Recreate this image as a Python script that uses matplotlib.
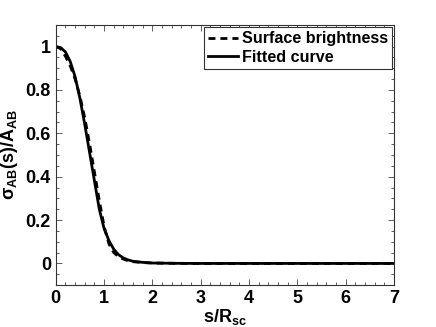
import matplotlib
matplotlib.use("Agg")
import matplotlib.pyplot as plt
from matplotlib.ticker import MultipleLocator, FormatStrFormatter

plt.rcParams['font.family'] = ['Liberation Sans', 'DejaVu Sans']
plt.rcParams['font.weight'] = 'bold'
plt.rcParams['mathtext.fontset'] = 'custom'
plt.rcParams['mathtext.rm'] = 'Liberation Sans:bold'
plt.rcParams['mathtext.it'] = 'Liberation Sans:bold'
plt.rcParams['mathtext.bf'] = 'Liberation Sans:bold'

# surface brightness (dashed)
s_sb = [0, 0.1, 0.2, 0.3, 0.4, 0.5, 0.6, 0.7, 0.8, 0.9, 1.0, 1.1, 1.2, 1.3,
        1.4, 1.5, 1.6, 1.8, 2.0, 2.5, 3.0, 7.0]
sb = [1.0, 0.99, 0.955, 0.91, 0.85, 0.77, 0.67, 0.55, 0.42, 0.29, 0.17, 0.09,
      0.05, 0.03, 0.02, 0.012, 0.008, 0.004, 0.002, 0.0005, 0.0, 0.0]

# fitted curve (solid)
s_fit = [0, 0.1, 0.2, 0.3, 0.4, 0.5, 0.6, 0.7, 0.8, 0.9, 1.0, 1.1, 1.2, 1.3,
         1.4, 1.5, 1.6, 1.8, 2.0, 2.5, 3.0, 7.0]
fit = [1.0, 0.995, 0.975, 0.93, 0.86, 0.76, 0.64, 0.51, 0.38, 0.25, 0.16, 0.105,
       0.065, 0.04, 0.025, 0.016, 0.01, 0.005, 0.002, 0.0005, 0.0, 0.0]

fig = plt.figure(figsize=(4.36, 3.27), dpi=100)
ax = fig.add_axes([0.128, 0.128, 0.776, 0.796])

ax.plot(s_sb, sb, 'k--', lw=2.0, dashes=(2.5, 1.8), label='Surface brightness')
ax.plot(s_fit, fit, 'k-', lw=2.0, label='Fitted curve')

ax.set_xlim(0, 7)
ax.set_ylim(-0.1, 1.1)
ax.xaxis.set_major_locator(MultipleLocator(1))
ax.xaxis.set_minor_locator(MultipleLocator(0.2))
ax.yaxis.set_major_locator(MultipleLocator(0.2))
ax.yaxis.set_minor_locator(MultipleLocator(0.05))
ax.yaxis.set_major_formatter(FormatStrFormatter('%g'))
ax.tick_params(which='both', direction='in', top=True, right=True,
               labelsize=13, width=0.6, color='#444444')
ax.tick_params(which='major', length=4)
ax.tick_params(which='minor', length=2)
for sp in ax.spines.values():
    sp.set_linewidth(0.8)
    sp.set_color('#333333')

ax.set_xlabel(r'$\mathrm{s/R_{sc}}$', fontsize=13, labelpad=0)
ax.set_ylabel(r'$\sigma_{AB}\mathrm{(s)/A_{AB}}$', fontsize=13, labelpad=4)

leg = ax.legend(loc='upper right', fontsize=11.6, handlelength=1.9,
                handletextpad=0.2, borderpad=0.25, labelspacing=0.2,
                borderaxespad=0.15, fancybox=False, framealpha=1)
leg.get_frame().set_edgecolor('#333333')
leg.get_frame().set_linewidth(0.8)
for t in leg.get_texts():
    t.set_fontweight('bold')

plt.savefig('out.png', dpi=100)
